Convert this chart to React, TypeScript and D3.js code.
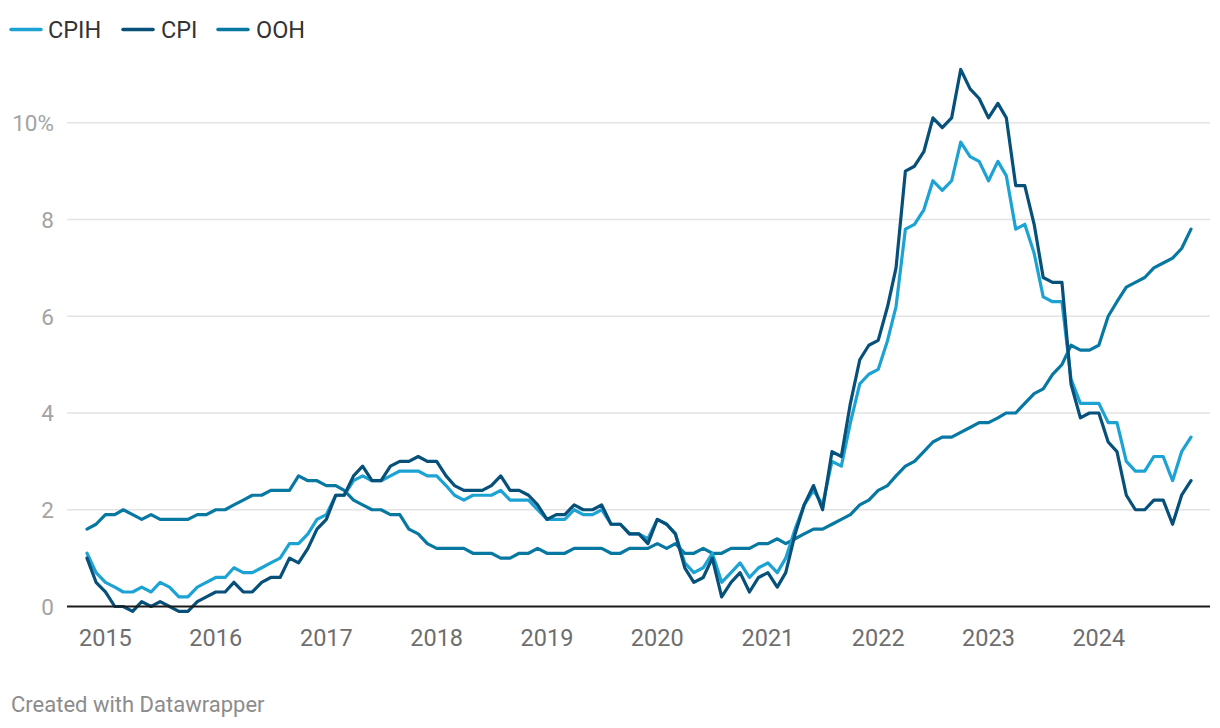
import React from "react";
import * as d3 from "d3";

// Monthly series, Nov 2014 – Nov 2024 (annual rate, %)
const START_YEAR = 2014;
const START_MONTH = 10; // November (0-based)

const seriesNames = ["CPIH", "CPI", "OOH"];

const cpih = [
  1.1, 0.7,
  0.5, 0.4, 0.3, 0.3, 0.4, 0.3, 0.5, 0.4, 0.2, 0.2, 0.4, 0.5,
  0.6, 0.6, 0.8, 0.7, 0.7, 0.8, 0.9, 1.0, 1.3, 1.3, 1.5, 1.8,
  1.9, 2.3, 2.3, 2.6, 2.7, 2.6, 2.6, 2.7, 2.8, 2.8, 2.8, 2.7,
  2.7, 2.5, 2.3, 2.2, 2.3, 2.3, 2.3, 2.4, 2.2, 2.2, 2.2, 2.0,
  1.8, 1.8, 1.8, 2.0, 1.9, 1.9, 2.0, 1.7, 1.7, 1.5, 1.5, 1.4,
  1.8, 1.7, 1.5, 0.9, 0.7, 0.8, 1.1, 0.5, 0.7, 0.9, 0.6, 0.8,
  0.9, 0.7, 1.0, 1.6, 2.1, 2.4, 2.1, 3.0, 2.9, 3.8, 4.6, 4.8,
  4.9, 5.5, 6.2, 7.8, 7.9, 8.2, 8.8, 8.6, 8.8, 9.6, 9.3, 9.2,
  8.8, 9.2, 8.9, 7.8, 7.9, 7.3, 6.4, 6.3, 6.3, 4.7, 4.2, 4.2,
  4.2, 3.8, 3.8, 3.0, 2.8, 2.8, 3.1, 3.1, 2.6, 3.2, 3.5,
];

const cpi = [
  1.0, 0.5,
  0.3, 0.0, 0.0, -0.1, 0.1, 0.0, 0.1, 0.0, -0.1, -0.1, 0.1, 0.2,
  0.3, 0.3, 0.5, 0.3, 0.3, 0.5, 0.6, 0.6, 1.0, 0.9, 1.2, 1.6,
  1.8, 2.3, 2.3, 2.7, 2.9, 2.6, 2.6, 2.9, 3.0, 3.0, 3.1, 3.0,
  3.0, 2.7, 2.5, 2.4, 2.4, 2.4, 2.5, 2.7, 2.4, 2.4, 2.3, 2.1,
  1.8, 1.9, 1.9, 2.1, 2.0, 2.0, 2.1, 1.7, 1.7, 1.5, 1.5, 1.3,
  1.8, 1.7, 1.5, 0.8, 0.5, 0.6, 1.0, 0.2, 0.5, 0.7, 0.3, 0.6,
  0.7, 0.4, 0.7, 1.5, 2.1, 2.5, 2.0, 3.2, 3.1, 4.2, 5.1, 5.4,
  5.5, 6.2, 7.0, 9.0, 9.1, 9.4, 10.1, 9.9, 10.1, 11.1, 10.7, 10.5,
  10.1, 10.4, 10.1, 8.7, 8.7, 7.9, 6.8, 6.7, 6.7, 4.6, 3.9, 4.0,
  4.0, 3.4, 3.2, 2.3, 2.0, 2.0, 2.2, 2.2, 1.7, 2.3, 2.6,
];

const ooh = [
  1.6, 1.7,
  1.9, 1.9, 2.0, 1.9, 1.8, 1.9, 1.8, 1.8, 1.8, 1.8, 1.9, 1.9,
  2.0, 2.0, 2.1, 2.2, 2.3, 2.3, 2.4, 2.4, 2.4, 2.7, 2.6, 2.6,
  2.5, 2.5, 2.4, 2.2, 2.1, 2.0, 2.0, 1.9, 1.9, 1.6, 1.5, 1.3,
  1.2, 1.2, 1.2, 1.2, 1.1, 1.1, 1.1, 1.0, 1.0, 1.1, 1.1, 1.2,
  1.1, 1.1, 1.1, 1.2, 1.2, 1.2, 1.2, 1.1, 1.1, 1.2, 1.2, 1.2,
  1.3, 1.2, 1.3, 1.1, 1.1, 1.2, 1.1, 1.1, 1.2, 1.2, 1.2, 1.3,
  1.3, 1.4, 1.3, 1.4, 1.5, 1.6, 1.6, 1.7, 1.8, 1.9, 2.1, 2.2,
  2.4, 2.5, 2.7, 2.9, 3.0, 3.2, 3.4, 3.5, 3.5, 3.6, 3.7, 3.8,
  3.8, 3.9, 4.0, 4.0, 4.2, 4.4, 4.5, 4.8, 5.0, 5.4, 5.3, 5.3,
  5.4, 6.0, 6.3, 6.6, 6.7, 6.8, 7.0, 7.1, 7.2, 7.4, 7.8,
];

const yTicks = [0, 2, 4, 6, 8, 10];
const xTickYears = [2015, 2016, 2017, 2018, 2019, 2020, 2021, 2022, 2023, 2024];

const colors: Record<string, string> = {
  CPIH: "#1ca3d3",
  CPI: "#06507a",
  OOH: "#0778a1",
};

const W = 1220;
const H = 728;
const FONT = "Roboto, 'Noto Sans', sans-serif";

export default function App() {
  const dates = cpih.map((_, i) => new Date(START_YEAR, START_MONTH + i, 1));
  const x = d3
    .scaleTime()
    .domain([dates[0], dates[dates.length - 1]])
    .range([87, 1191]);
  const y = d3.scaleLinear().domain([0, 10]).range([606.5, 122.7]);

  const valuesByName: Record<string, number[]> = { CPIH: cpih, CPI: cpi, OOH: ooh };
  const line = d3
    .line<number>()
    .x((_, i) => x(dates[i]))
    .y((v) => y(v));

  const drawOrder = ["OOH", "CPIH", "CPI"];
  const legendPos = [
    { sx: 11, tx: 48 },
    { sx: 123, tx: 161 },
    { sx: 218, tx: 256 },
  ];

  return (
    <svg
      width={W}
      height={H}
      style={{ position: "absolute", left: 0, top: 0, background: "#fff" }}
      fontFamily={FONT}
    >
      {/* legend */}
      {seriesNames.map((n, i) => (
        <g key={n}>
          <line
            x1={legendPos[i].sx}
            x2={legendPos[i].sx + 30}
            y1={29.5}
            y2={29.5}
            stroke={colors[n]}
            strokeWidth={3.5}
            strokeLinecap="round"
          />
          <text x={legendPos[i].tx} y={37.5} fontSize={23.5} fill="#333">
            {n}
          </text>
        </g>
      ))}

      {/* gridlines */}
      {yTicks.map((t) => (
        <g key={t}>
          {t !== 0 && (
            <line x1={67} x2={1210} y1={y(t)} y2={y(t)} stroke="#e3e3e3" strokeWidth={1.5} />
          )}
          <text
            x={54}
            y={y(t)}
            dy={8.5}
            textAnchor="end"
            fontSize={22.5}
            fill="#a3a3a3"
          >
            {t === 10 ? "10%" : String(t)}
          </text>
        </g>
      ))}

      {/* x labels */}
      {xTickYears.map((yr) => (
        <text
          key={yr}
          x={x(new Date(yr, 0, 1))}
          y={646}
          textAnchor="middle"
          fontSize={23.5}
          fill="#6e6e6e"
        >
          {yr}
        </text>
      ))}

      {/* lines */}
      {drawOrder.map((n) => (
        <path
          key={n}
          d={line(valuesByName[n]) || ""}
          fill="none"
          stroke={colors[n]}
          strokeWidth={3.2}
          strokeLinejoin="round"
          strokeLinecap="round"
        />
      ))}

      {/* baseline */}
      <line x1={67} x2={1210} y1={y(0)} y2={y(0)} stroke="#1a1a1a" strokeWidth={2} />

      {/* footer */}
      <text x={11} y={711.5} fontSize={22} fill="#8c8c8c">
        Created with Datawrapper
      </text>
    </svg>
  );
}
